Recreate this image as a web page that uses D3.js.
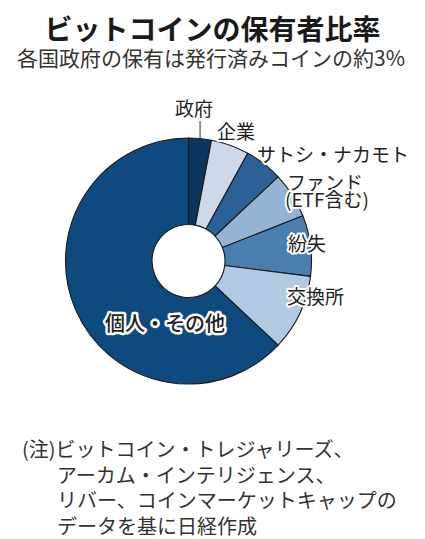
<!DOCTYPE html>
<html><head><meta charset="utf-8">
<script src="https://cdn.jsdelivr.net/npm/d3@7"></script>
<style>
html,body{margin:0;padding:0;background:#fff;}
svg{display:block;font-family:"Noto Sans CJK JP","Noto Sans",sans-serif;}
</style></head>
<body><svg id="c" width="425" height="539"></svg>
<script>
const categories = ["政府","企業","サトシ・ナカモト","ファンド(ETF含む)","紛失","交換所","個人・その他"];
const values = [3,5,5,6,8,10,63];
const colors = ["#0b355f","#cdd9e8","#2c6195","#95b4d4","#4a7eaf","#b2c9e2","#0f4a7e"];
const labelLines = [["政府"],["企業"],["サトシ・ナカモト"],["ファンド","(ETF含む)"],["紛失"],["交換所"],["個人・その他"]];
const title = "ビットコインの保有者比率";
const subtitle = "各国政府の保有は発行済みコインの約3%";
const notes = ["(注)ビットコイン・トレジャリーズ、","アーカム・インテリジェンス、","リバー、コインマーケットキャップの","データを基に日経作成"];

const svg = d3.select("#c");
svg.append("text").attr("x",212.5).attr("y",40).attr("text-anchor","middle")
  .attr("font-size",28).attr("font-weight",700).attr("fill","#1a1a1a").text(title);
svg.append("text").attr("x",17).attr("y",66).attr("text-anchor","start")
  .attr("font-size",21).attr("fill","#333").text(subtitle);

const cx = 188.5, cy = 261, R = 123, r0 = 36.5;
const pie = d3.pie().sort(null).value(d=>d)(values);
const arc = d3.arc().innerRadius(r0).outerRadius(R);
const g = svg.append("g").attr("transform",`translate(${cx},${cy})`);
g.selectAll("path").data(pie).join("path")
  .attr("d",arc).attr("fill",(d,i)=>colors[i])
  .attr("stroke","#1a1a1a").attr("stroke-width",1.1).attr("stroke-linejoin","round");

// leader line for 政府
const a0 = (pie[0].startAngle+pie[0].endAngle)/2;
g.append("line").attr("x1",Math.sin(a0)*R).attr("y1",-cy+121)
  .attr("x2",Math.sin(a0)*R).attr("y2",-Math.cos(a0)*R)
  .attr("stroke","#333").attr("stroke-width",1);

// label anchors (left x, first baseline)
const labelPos = [[175,115.5],[217,139],[257,162],[287,189.5],[288,251],[287,304],[105,331]];
const lg = svg.append("g");
labelLines.forEach((lines,i)=>{
  const t = lg.append("text").attr("x",labelPos[i][0]).attr("y",labelPos[i][1])
    .attr("font-size",i===6?20:19).attr("font-weight",i===6?500:400)
    .attr("fill","#222").attr("stroke","#fff").attr("stroke-width",i===6?5:4)
    .attr("stroke-linejoin","round").attr("paint-order","stroke");
  lines.forEach((s,j)=>{
    t.append("tspan").attr("x",labelPos[i][0]-(j>0?2:0)).attr("dy",j===0?0:17.5).text(s);
  });
});

const ng = svg.append("g").attr("font-size",20).attr("fill","#333");
notes.forEach((t,i)=>{
  ng.append("text").attr("x",i===0?22:57).attr("y",457+i*25.7).text(t);
});
</script></body></html>
